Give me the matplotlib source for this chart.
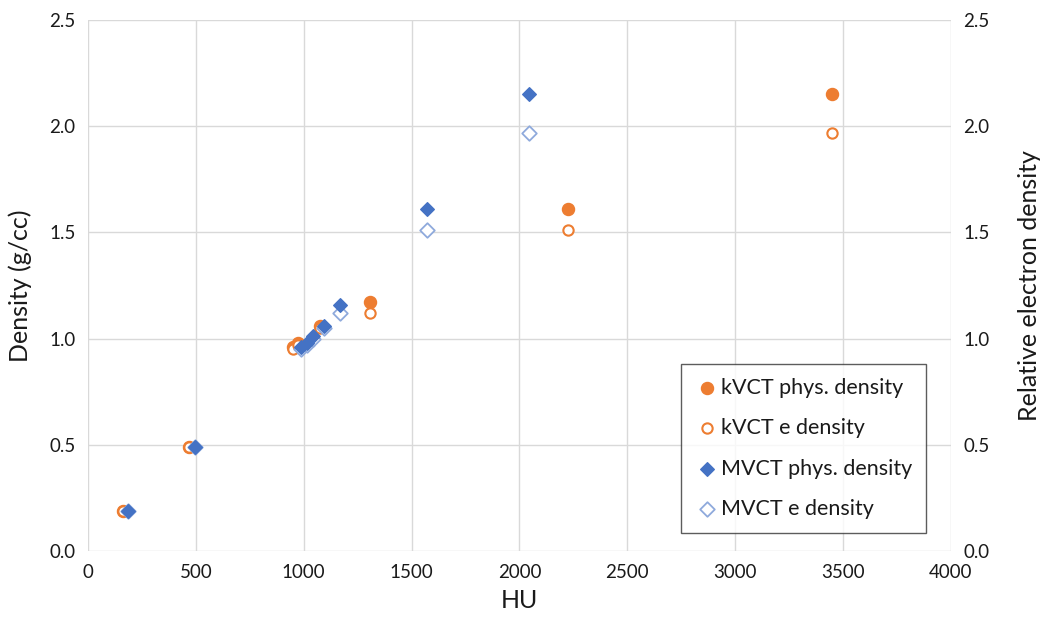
import matplotlib
matplotlib.use("Agg")
import matplotlib.pyplot as plt

kv_hu = [160, 470, 950, 975, 1075, 1305, 2225, 3450]
kv_phys = [0.19, 0.49, 0.96, 0.98, 1.06, 1.17, 1.61, 2.15]
kv_e = [0.19, 0.49, 0.95, 0.97, 1.05, 1.12, 1.51, 1.97]
mv_hu = [185, 495, 985, 1015, 1045, 1095, 1170, 1570, 2045]
mv_phys = [0.19, 0.49, 0.96, 0.98, 1.01, 1.06, 1.16, 1.61, 2.15]
mv_e = [0.19, 0.49, 0.95, 0.97, 1.00, 1.05, 1.12, 1.51, 1.97]

xticks = [0, 500, 1000, 1500, 2000, 2500, 3000, 3500, 4000]
yticks = [0.0, 0.5, 1.0, 1.5, 2.0, 2.5]

plt.rcParams['font.family'] = ['Lato', 'DejaVu Sans']
orange = '#ED7D31'
blue = '#4472C4'
lblue = '#8FAADC'
txt = '#1a1a1a'

fig = plt.figure(figsize=(10.5, 6.27), dpi=100)
ax = fig.add_axes([0.0838, 0.1212, 0.8219, 0.8469])
ax.scatter(kv_hu, kv_phys, s=75, marker='o', color=orange, label='kVCT phys. density', zorder=3)
ax.scatter(kv_hu, kv_e, s=55, marker='o', facecolor='white', edgecolor=orange, linewidth=1.5, label='kVCT e density', zorder=3)
ax.scatter(mv_hu, mv_phys, s=48, marker='D', color=blue, label='MVCT phys. density', zorder=4)
ax.scatter(mv_hu, mv_e, s=55, marker='D', facecolor='white', edgecolor=lblue, linewidth=1.3, label='MVCT e density', zorder=3)

ax.set_xlim(0, 4000)
ax.set_ylim(0, 2.5)
ax.set_xticks(xticks)
ax.set_yticks(yticks)
ax.set_yticklabels([f"{v:.1f}" for v in yticks])
ax.grid(True, color='#D9D9D9', linewidth=1)
ax.set_axisbelow(True)
for s in ax.spines.values():
    s.set_visible(False)
ax.tick_params(length=0, labelsize=13.5, pad=9, labelcolor=txt)
ax.set_xlabel('HU', fontsize=18, color=txt, labelpad=6)
ax.set_ylabel('Density (g/cc)', fontsize=18, color=txt, labelpad=12)

ax2 = ax.twinx()
ax2.set_ylim(0, 2.5)
ax2.set_yticks(yticks)
ax2.set_yticklabels([f"{v:.1f}" for v in yticks])
for s in ax2.spines.values():
    s.set_visible(False)
ax2.tick_params(length=0, labelsize=13.5, pad=9, labelcolor=txt)
ax2.set_ylabel('Relative electron density', fontsize=18, color=txt, labelpad=20)

leg = ax.legend(loc='lower right', bbox_to_anchor=(0.971, 0.034), fontsize=15.5,
                frameon=True, fancybox=False, edgecolor='#333333', handletextpad=0.1,
                borderpad=0.65, labelspacing=0.95, handlelength=1.1, borderaxespad=0)
leg.get_frame().set_linewidth(1.0)
for t in leg.get_texts():
    t.set_color(txt)

fig.savefig('out.png', dpi=100)
